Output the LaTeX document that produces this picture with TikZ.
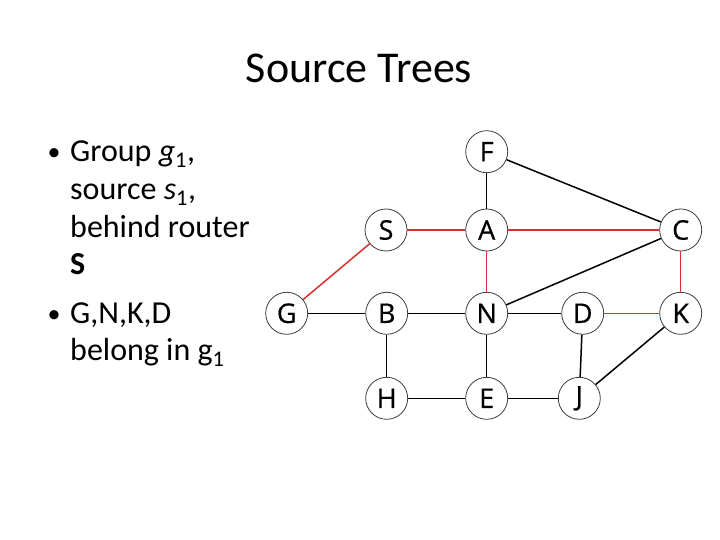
\documentclass[tikz,border=0pt]{standalone}
\usepackage{fontspec}
\setmainfont{Carlito}
\newfontfamily\nodefont[FakeBold=0.6]{Open Sans}
\newcommand\routerfont{\nodefont\fontsize{27}{28}\selectfont}
\definecolor{treered}{RGB}{214,48,48}
\definecolor{ringgray}{RGB}{60,60,60}
\begin{document}
\begin{tikzpicture}[x=1pt,y=-1pt,
  router/.style={circle,draw=ringgray,line width=0.8pt,minimum size=42pt,inner sep=0pt,fill=white,font=\routerfont},
  plain/.style={line width=1.5pt,black},
  tree/.style={line width=1.5pt,treered},
  txt/.style={anchor=base west,inner sep=0pt,font=\fontsize{32}{38}\selectfont},
  dot/.style={anchor=base,inner sep=0pt,font=\fontsize{26}{30}\selectfont}]
\useasboundingbox (0,0) rectangle (720,540);
\node[anchor=base,inner sep=0pt,font=\fontsize{44}{48}\selectfont] (title) at (359,83) {Source Trees};
% bullets
\node[dot] (b1) at (54,161) {•};
\node[txt] (l1) at (70,162) {Group \textit{g}\textsubscript{1},};
\node[txt] (l2) at (70,199.5) {source \textit{s}\textsubscript{1},};
\node[txt] (l3) at (70,237) {behind router};
\node[txt] (l4) at (70,274.5) {\textbf{S}};
\node[dot] (b2) at (54,322) {•};
\node[txt] (l5) at (70,323) {G,N,K,D};
\node[txt] (l6) at (70,360.5) {belong in g\textsubscript{1}};
% routers
\node[router] (F) at (486.7,151.7) {F};
\node[router] (S) at (386,230) {S};
\node[router] (A) at (486.7,230) {A};
\node[router] (C) at (680.7,230) {C};
\node[router] (G) at (286.7,313.3) {G};
\node[router] (B) at (386.7,313.3) {B};
\node[router] (N) at (486.7,313.3) {N};
\node[router] (D) at (582.7,313.3) {D};
\node[router] (K) at (680.7,313.3) {K};
\node[router] (H) at (386.7,398.3) {H};
\node[router] (E) at (486.7,398.3) {E};
\node[router] (J) at (579.3,398.3) {J};
% links
\draw[plain] (F) -- (A);
\draw[plain] (F) -- (C);
\draw[plain] (C) -- (N);
\draw[plain] (G) -- (B);
\draw[plain] (B) -- (N);
\draw[plain] (N) -- (D);
\draw[plain] (B) -- (H);
\draw[plain] (N) -- (E);
\draw[plain] (D) -- (J);
\draw[plain] (K) -- (J);
\draw[plain] (H) -- (E);
\draw[plain] (E) -- (J);
\draw[tree] (S) -- (A);
\draw[tree] (A) -- (C);
\draw[tree] (A) -- (N);
\draw[tree] (S) -- (G);
\draw[tree] (C) -- (K);
\draw[tree] (D) -- (K);
\end{tikzpicture}
\end{document}
